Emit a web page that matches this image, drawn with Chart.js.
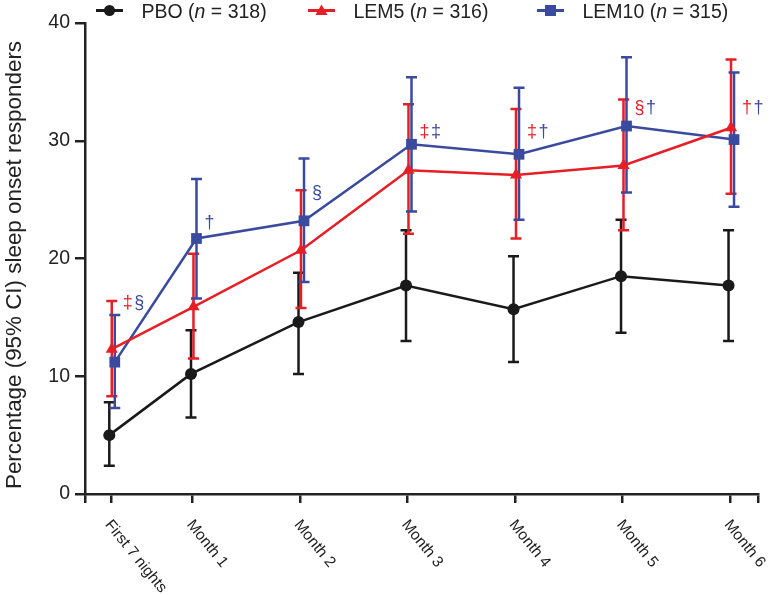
<!DOCTYPE html>
<html>
<head>
<meta charset="utf-8">
<script src="https://cdn.jsdelivr.net/npm/chart.js@4/dist/chart.umd.min.js"></script>
<style>
html,body{margin:0;padding:0;background:#fff;}
#wrap{width:772px;height:595px;}
</style>
</head>
<body>
<div id="wrap"><canvas id="c" width="772" height="595"></canvas></div>
<script>
// ---- data ----
const categories = ['First 7 nights', 'Month 1', 'Month 2', 'Month 3', 'Month 4', 'Month 5', 'Month 6'];
const categoryMonths = [0.24, 1, 2, 3, 4, 5, 6];
const yTicks = [0, 10, 20, 30, 40];

const pbo      = [5.0, 10.2, 14.6, 17.7, 15.7, 18.5, 17.7];
const pboLow   = [2.4, 6.5, 10.2, 13.0, 11.2, 13.7, 13.0];
const pboHigh  = [7.8, 13.9, 18.8, 22.4, 20.2, 23.3, 22.4];

const lem5     = [12.3, 15.9, 20.7, 27.5, 27.1, 27.9, 31.1];
const lem5Low  = [8.3, 11.5, 15.8, 22.1, 21.7, 22.4, 25.5];
const lem5High = [16.4, 20.4, 25.8, 33.1, 32.7, 33.5, 36.9];

const lem10     = [11.2, 21.7, 23.2, 29.7, 28.85, 31.25, 30.1];
const lem10Low  = [7.3, 16.6, 18.0, 24.0, 23.3, 25.6, 24.4];
const lem10High = [15.2, 26.75, 28.5, 35.4, 34.5, 37.1, 35.8];

const lem5Marks  = ['‡', '', '', '‡', '‡', '§', '†'];
const lem10Marks = ['§', '†', '§', '‡', '†', '†', '†'];
const markLevel  = [16.2, 23.0, 25.6, 30.7, 30.7, 32.8, 32.8];

const seriesNames = ['PBO', 'LEM5', 'LEM10'];
const seriesN = [318, 316, 315];
const yTitle = 'Percentage (95% CI) sleep onset responders';

// ---- styles ----
const FONT = '"Liberation Sans", Arial, Helvetica, sans-serif';
const BLACK = '#1a1a1a', RED = '#e61e26', BLUE = '#3a4a9e', AXIS = '#222';
const dodge = [-0.014, 0.009, 0.037];

function pts(vals, k) { return vals.map((v, i) => ({x: categoryMonths[i] + dodge[k], y: v})); }

const series = [
  {vals: pbo, low: pboLow, high: pboHigh, color: BLACK, style: 'circle', r: 6},
  {vals: lem5, low: lem5Low, high: lem5High, color: RED, style: 'triangle', r: 7},
  {vals: lem10, low: lem10Low, high: lem10High, color: BLUE, style: 'rect', r: 7.6}
];

const errorBars = {
  id: 'errorBars',
  beforeDatasetsDraw(chart) {
    const ctx = chart.ctx, xs = chart.scales.x, ys = chart.scales.y;
    ctx.save();
    ctx.lineWidth = 2.5;
    ctx.lineCap = 'butt';
    series.forEach((s, k) => {
      ctx.strokeStyle = s.color;
      s.vals.forEach((v, i) => {
        const x = xs.getPixelForValue(categoryMonths[i] + dodge[k]);
        const yl = ys.getPixelForValue(s.low[i]);
        const yh = ys.getPixelForValue(s.high[i]);
        ctx.beginPath();
        ctx.moveTo(x, yl); ctx.lineTo(x, yh);
        ctx.moveTo(x - 5.5, yl); ctx.lineTo(x + 5.5, yl);
        ctx.moveTo(x - 5.5, yh); ctx.lineTo(x + 5.5, yh);
        ctx.stroke();
      });
    });
    ctx.restore();
  }
};

const extras = {
  id: 'extras',
  afterDraw(chart) {
    const ctx = chart.ctx, xs = chart.scales.x, ys = chart.scales.y, ca = chart.chartArea;
    ctx.save();
    // significance marks
    ctx.font = '18px ' + FONT;
    ctx.textBaseline = 'middle';
    ctx.textAlign = 'left';
    categories.forEach((c, i) => {
      let x = xs.getPixelForValue(categoryMonths[i]) + 12;
      const y = ys.getPixelForValue(markLevel[i]);
      if (lem5Marks[i]) {
        ctx.fillStyle = RED;
        ctx.fillText(lem5Marks[i], x, y);
        x += ctx.measureText(lem5Marks[i]).width + 1.5;
      }
      if (lem10Marks[i]) {
        ctx.fillStyle = BLUE;
        ctx.fillText(lem10Marks[i], x, y);
      }
    });
    // rotated x labels
    ctx.fillStyle = AXIS;
    ctx.font = '15.5px ' + FONT;
    categories.forEach((c, i) => {
      const x = xs.getPixelForValue(categoryMonths[i]);
      ctx.save();
      ctx.translate(x - 3, ca.bottom + 28);
      ctx.rotate(51 * Math.PI / 180);
      ctx.textAlign = 'left';
      ctx.textBaseline = 'middle';
      ctx.fillText(c, 0, 0);
      ctx.restore();
    });
    // y title
    ctx.save();
    ctx.translate(15, 265);
    ctx.rotate(-Math.PI / 2);
    ctx.font = '22.4px ' + FONT;
    ctx.textAlign = 'center';
    ctx.textBaseline = 'middle';
    ctx.fillText(yTitle, 0, 0);
    ctx.restore();
    // legend
    const lx = [96, 308, 537];
    const ly = 10.5;
    ctx.textBaseline = 'middle';
    ctx.textAlign = 'left';
    series.forEach((s, k) => {
      ctx.strokeStyle = s.color;
      ctx.fillStyle = s.color;
      ctx.lineWidth = 3;
      ctx.beginPath();
      ctx.moveTo(lx[k], ly); ctx.lineTo(lx[k] + 27, ly);
      ctx.stroke();
      const cx = lx[k] + 13.5;
      ctx.beginPath();
      if (s.style === 'circle') { ctx.arc(cx, ly, 5.5, 0, Math.PI * 2); }
      else if (s.style === 'triangle') { ctx.moveTo(cx, ly - 6); ctx.lineTo(cx + 6, ly + 4.5); ctx.lineTo(cx - 6, ly + 4.5); ctx.closePath(); }
      else { ctx.rect(cx - 5.5, ly - 5.5, 11, 11); }
      ctx.fill();
      ctx.fillStyle = AXIS;
      let tx = lx[k] + 45.5;
      const parts = [[seriesNames[k] + ' (', ''], ['n', 'italic '], [' = ' + seriesN[k] + ')', '']];
      parts.forEach(([t, st]) => {
        ctx.font = st + '19.5px ' + FONT;
        ctx.fillText(t, tx, ly + 2);
        tx += ctx.measureText(t).width;
      });
    });
    ctx.restore();
  }
};

new Chart(document.getElementById('c'), {
  type: 'line',
  data: {
    datasets: series.map((s, k) => ({
      label: seriesNames[k],
      data: pts(s.vals, k),
      borderColor: s.color,
      backgroundColor: s.color,
      borderWidth: 2.5,
      pointStyle: s.style,
      pointRadius: s.r,
      pointHoverRadius: s.r,
      pointBorderWidth: 0,
      tension: 0,
      fill: false
    }))
  },
  options: {
    responsive: false,
    animation: false,
    devicePixelRatio: 1,
    layout: {padding: {left: 0, top: 23, right: 14, bottom: 0}},
    plugins: {legend: {display: false}, tooltip: {enabled: false}},
    scales: {
      x: {
        type: 'linear', min: 0, max: 6.26,
        afterBuildTicks: s => { s.ticks = [0, ...categoryMonths, 6.26].map(v => ({value: v})); },
        afterFit: s => { s.height = 101; },
        ticks: {display: false},
        grid: {drawOnChartArea: false, drawTicks: true, tickLength: 9, color: AXIS, lineWidth: 2.5},
        border: {display: true, color: AXIS, width: 2.5}
      },
      y: {
        min: 0, max: 40,
        afterBuildTicks: s => { s.ticks = yTicks.map(v => ({value: v})); },
        afterFit: s => { s.width = 85; },
        ticks: {font: {size: 19.5, family: FONT}, color: AXIS, padding: 5},
        grid: {drawOnChartArea: false, drawTicks: true, tickLength: 10, color: AXIS, lineWidth: 2.5},
        border: {display: true, color: AXIS, width: 2.5},
        title: {display: false}
      }
    }
  },
  plugins: [errorBars, extras]
});
</script>
</body>
</html>
